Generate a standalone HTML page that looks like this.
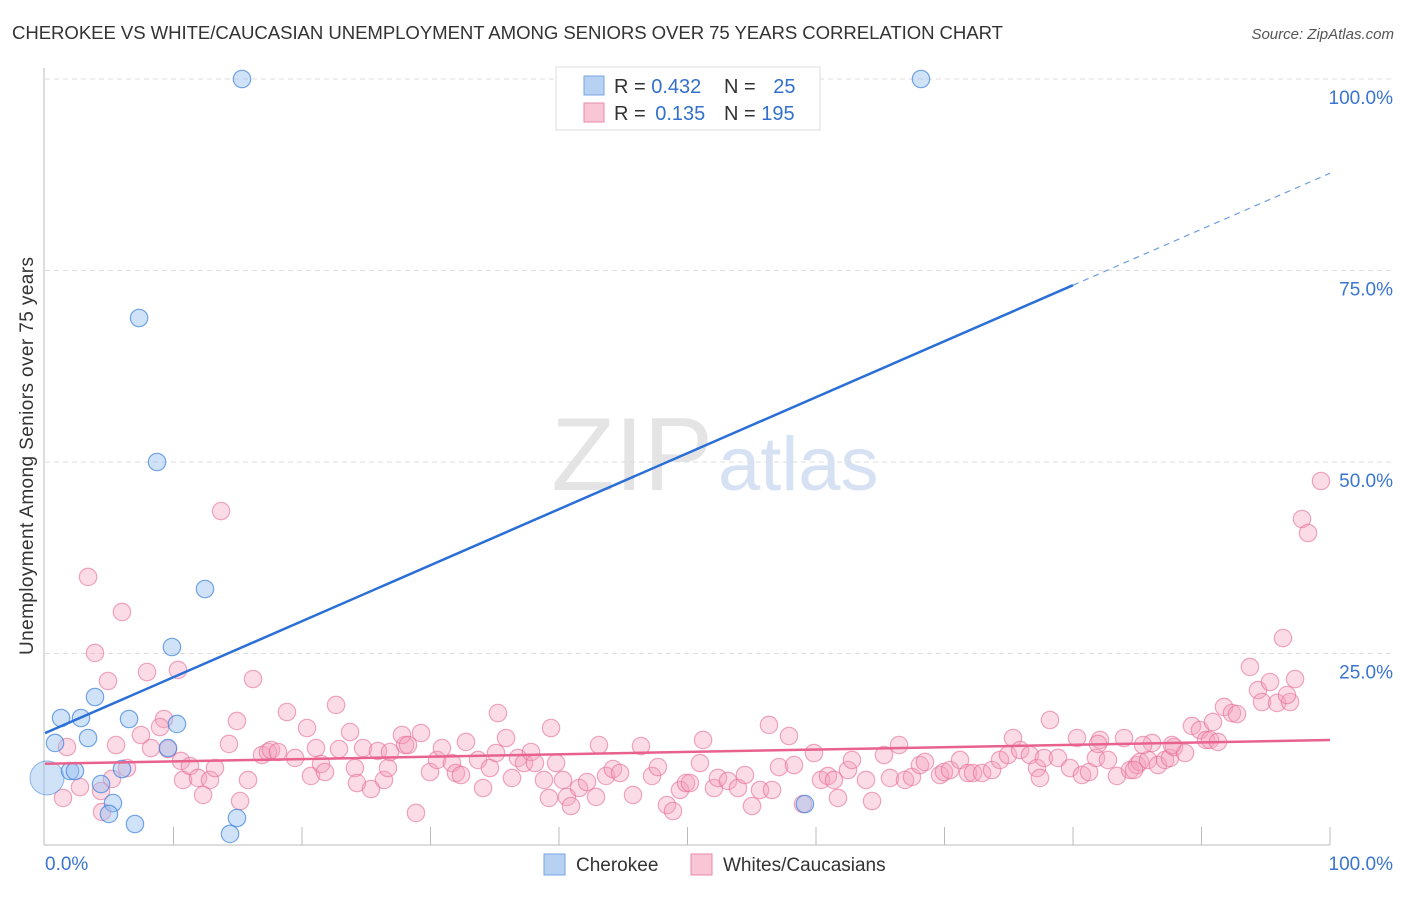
<!DOCTYPE html>
<html><head><meta charset="utf-8"><style>
body{margin:0;background:#fff;font-family:"Liberation Sans",sans-serif;}
svg text{font-family:"Liberation Sans",sans-serif;}
</style></head><body>
<svg width="1406" height="892" id="chart">
<text x="12" y="39" font-size="18.6" fill="#333" textLength="991">CHEROKEE VS WHITE/CAUCASIAN UNEMPLOYMENT AMONG SENIORS OVER 75 YEARS CORRELATION CHART</text>
<text x="1394" y="39" font-size="15" fill="#555" text-anchor="end" font-style="italic">Source: ZipAtlas.com</text>
<text x="713" y="490" font-size="104" fill="#e4e4e4" text-anchor="end" font-family="Liberation Serif">ZIP</text>
<text x="718" y="490" font-size="76" fill="#d6e2f4">atlas</text>
<text transform="translate(33,456) rotate(-90)" font-size="19" fill="#333" text-anchor="middle" textLength="398">Unemployment Among Seniors over 75 years</text>
<g id="grid"></g><g id="axes"></g><g id="pts"></g><g id="trend"></g>
<g>
<rect x="556" y="67" width="264" height="63" fill="#fff" stroke="#ddd"/>
<rect x="584" y="76" width="20" height="19" fill="#b7d1f3" stroke="#7aa6e0"/>
<rect x="584" y="103" width="20" height="19" fill="#f8c6d5" stroke="#e88aa8"/>
<text x="614" y="93" font-size="20" fill="#333">R = <tspan fill="#3370cc">0.432</tspan></text>
<text x="724" y="93" font-size="20" fill="#333">N = <tspan fill="#3370cc" dx="12">25</tspan></text>
<text x="614" y="120" font-size="20" fill="#333">R = <tspan fill="#3370cc" dx="4">0.135</tspan></text>
<text x="724" y="120" font-size="20" fill="#333">N = <tspan fill="#3370cc">195</tspan></text>
</g>
<g>
<rect x="544" y="854" width="21" height="21" fill="#b7d1f3" stroke="#7aa6e0"/>
<text x="576" y="871" font-size="19" fill="#333">Cherokee</text>
<rect x="691" y="854" width="21" height="21" fill="#f8c6d5" stroke="#e88aa8"/>
<text x="723" y="871" font-size="19" fill="#333">Whites/Caucasians</text>
</g>
</svg>
<script>
const yTicks=[25,50,75,100];
const yTickLabels=["25.0%","50.0%","75.0%","100.0%"];
const xTickLabels=["0.0%","100.0%"];
const pinkPx=[[88,577],[122,612],[95,653],[108,681],[67,747],[63,798],[80,787],[101,791],[112,779],[102,812],[116,745],[127,768],[141,735],[147,672],[151,748],[164,719],[160,727],[168,749],[178,670],[181,761],[183,780],[190,766],[198,778],[203,795],[210,780],[215,768],[221,511],[229,744],[237,721],[240,801],[248,780],[253,679],[262,755],[268,752],[271,750],[278,752],[287,712],[295,758],[307,728],[311,776],[316,748],[321,764],[325,772],[336,705],[339,749],[350,732],[355,768],[357,783],[363,748],[371,789],[378,751],[384,780],[388,768],[390,752],[405,745],[402,735],[408,745],[416,813],[421,733],[430,772],[437,760],[442,748],[452,763],[456,773],[461,775],[466,742],[478,760],[483,788],[490,768],[496,753],[498,713],[506,738],[512,778],[518,758],[524,763],[531,752],[535,763],[544,780],[549,798],[551,728],[556,763],[563,780],[567,797],[571,806],[579,788],[587,782],[596,797],[599,745],[606,776],[613,769],[620,773],[633,795],[641,746],[652,776],[658,767],[667,805],[673,811],[680,790],[686,783],[690,783],[700,763],[703,740],[714,788],[718,778],[728,781],[738,788],[745,775],[752,806],[760,790],[769,725],[772,790],[779,767],[789,736],[794,765],[803,804],[814,753],[821,780],[828,776],[834,780],[838,798],[848,770],[852,760],[866,780],[872,801],[884,755],[890,778],[899,745],[905,780],[912,777],[920,765],[925,762],[940,775],[944,772],[950,770],[960,760],[968,773],[973,773],[982,773],[992,770],[1000,760],[1008,755],[1013,738],[1020,750],[1030,755],[1037,768],[1040,778],[1044,758],[1050,720],[1058,758],[1070,768],[1077,738],[1082,775],[1089,772],[1096,758],[1100,740],[1108,760],[1117,776],[1124,738],[1130,770],[1137,765],[1140,762],[1148,760],[1152,743],[1158,765],[1165,760],[1170,758],[1174,747],[1185,753],[1192,726],[1200,730],[1206,740],[1210,740],[1213,722],[1218,742],[1224,707],[1232,713],[1237,714],[1250,667],[1258,690],[1262,702],[1270,682],[1277,703],[1290,702],[1295,679],[1287,695],[1283,638],[1302,519],[1308,533],[1321,481],[1143,745],[1134,770],[1098,744],[1172,745]];
const bluePx=[[242,79],[921,79],[139,318],[157,462],[205,589],[172,647],[95,697],[61,718],[81,718],[129,719],[177,724],[88,738],[55,743],[168,748],[70,771],[75,771],[122,769],[101,784],[113,803],[109,814],[135,824],[237,818],[230,834],[805,804]];
// data values (percent), derived from reading the picture
const whitesX=pinkPx.map(p=>+((p[0]-45)/12.85).toFixed(2));
const whitesY=pinkPx.map(p=>+((845-p[1])/7.66).toFixed(2));
const cherokeeX=bluePx.map(p=>+((p[0]-45)/12.85).toFixed(2));
const cherokeeY=bluePx.map(p=>+((845-p[1])/7.66).toFixed(2));
const blueTrend=[14.6,87.7];
const pinkTrend=[10.6,13.7];
const X=v=>45+v*12.85, Y=v=>845-v*7.66;
const NS="http://www.w3.org/2000/svg";
function mk(t,a,parent){const e=document.createElementNS(NS,t);for(const k in a)e.setAttribute(k,a[k]);document.getElementById(parent).appendChild(e);return e;}
yTicks.forEach((t,i)=>{
 const g=mk('line',{x1:45,x2:1393,y1:Y(t),y2:Y(t),stroke:'#ddd','stroke-dasharray':'5,4'},'grid');
 
 
 const tx=mk('text',{x:1393,y:Y(t)+25,'font-size':19,fill:'#3a75d0','text-anchor':'end'},'grid');
 tx.textContent=yTickLabels[i];
 
 
});
let a=mk('line',{x1:44,x2:44,y1:68,y2:845,stroke:'#bbb'},'axes');


a=mk('line',{x1:44,x2:1330,y1:845,y2:845,stroke:'#bbb'},'axes');


for(let i=1;i<=10;i++){const t=mk('line',{x1:X(i*10),x2:X(i*10),y1:827,y2:845,stroke:'#bbb'},'axes');
 
 }
let l=mk('text',{x:45,y:870,'font-size':19,fill:'#3a75d0'},'axes');l.textContent=xTickLabels[0];


l=mk('text',{x:1393,y:870,'font-size':19,fill:'#3a75d0','text-anchor':'end'},'axes');l.textContent=xTickLabels[1];


whitesX.forEach((x,i)=>{const c=mk('circle',{cx:X(x),cy:Y(whitesY[i]),r:8.7,fill:'rgba(244,160,188,0.38)',stroke:'rgba(230,110,150,0.6)','stroke-width':1.2},'pts');
 
 });
let big=mk('circle',{cx:47,cy:778,r:17,fill:'rgba(150,190,240,0.45)',stroke:'rgba(80,140,220,0.6)'},'pts');


cherokeeX.forEach((x,i)=>{const c=mk('circle',{cx:X(x),cy:Y(cherokeeY[i]),r:8.7,fill:'rgba(150,190,240,0.45)',stroke:'rgba(60,130,220,0.7)','stroke-width':1.2},'pts');
 
 });
const bAt=x=>blueTrend[0]+(blueTrend[1]-blueTrend[0])*x/100;
let t=mk('line',{x1:X(0),y1:Y(bAt(0)),x2:X(80),y2:Y(bAt(80)),stroke:'#2a6fd6','stroke-width':2.5},'trend');


t=mk('line',{x1:X(80),y1:Y(bAt(80)),x2:X(100),y2:Y(bAt(100)),stroke:'#6f9ee0','stroke-width':1.2,'stroke-dasharray':'6,5'},'trend');


t=mk('line',{x1:X(0),y1:Y(pinkTrend[0]),x2:X(100),y2:Y(pinkTrend[1]),stroke:'#e8628e','stroke-width':2.5},'trend');


</script>
</body></html>
